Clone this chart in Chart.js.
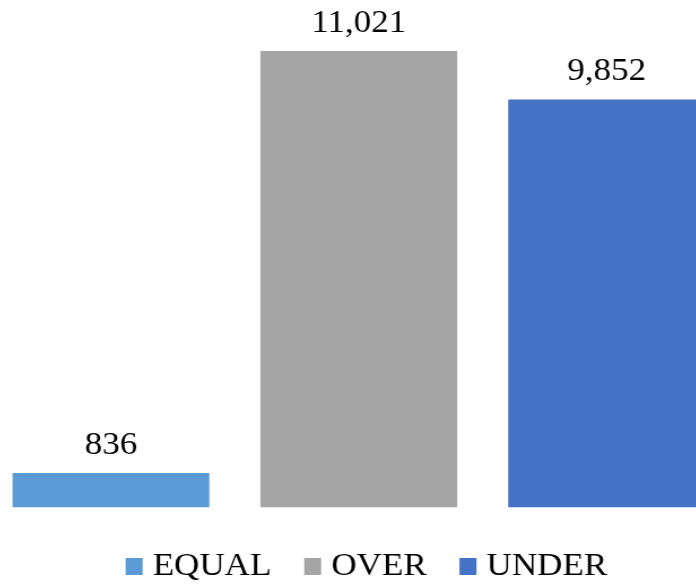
<!DOCTYPE html>
<html>
<head>
<meta charset="utf-8">
<script src="https://cdn.jsdelivr.net/npm/chart.js@4"></script>
<style>
  html, body { margin: 0; padding: 0; background: #fff; overflow: hidden; }
  body { width: 696px; height: 586px; position: relative; }
  /* chart is drawn a bit narrower and stretched sideways */
  #wrap {
    position: absolute; left: -13.5px; top: 0;
    width: 658px; height: 592px;
    transform: scaleX(1.13); transform-origin: 0 0;
  }
</style>
</head>
<body>
<div id="wrap"><canvas id="chart"></canvas></div>
<script>
const categories = ['EQUAL', 'OVER', 'UNDER'];
const counts = [836, 11021, 9852];
const barColors = ['#5B9BD5', '#A5A5A5', '#4472C4'];

const FONT = "'Liberation Serif', 'Times New Roman', serif";
const FONT_SIZE = 31;

// one dataset per category so the legend lists each one
const datasets = categories.map((name, i) => ({
  label: name,
  data: categories.map((_, j) => (i === j ? counts[i] : null)),
  backgroundColor: barColors[i],
  borderWidth: 0,
  grouped: false,
  skipNull: true,
  barPercentage: 0.794,
  categoryPercentage: 1,
}));

// legend swatch: small square sitting close to its label
function makeSwatch(color) {
  const c = document.createElement('canvas');
  c.width = 41;
  c.height = 17;
  const g = c.getContext('2d');
  g.fillStyle = color;
  g.fillRect(23, 0, 15, 17);
  return c;
}
const swatches = barColors.map(makeSwatch);

// value labels above each bar
const valueLabels = {
  id: 'valueLabels',
  afterDatasetsDraw(chart) {
    const ctx = chart.ctx;
    ctx.save();
    ctx.font = FONT_SIZE + 'px ' + FONT;
    ctx.fillStyle = '#000';
    ctx.textAlign = 'center';
    ctx.textBaseline = 'alphabetic';
    chart.data.datasets.forEach((ds, i) => {
      const meta = chart.getDatasetMeta(i);
      meta.data.forEach((bar, j) => {
        const v = ds.data[j];
        if (v == null) return;
        ctx.fillText(v.toLocaleString('en-US'), bar.x, bar.y - 19);
      });
    });
    ctx.restore();
  }
};

new Chart(document.getElementById('chart'), {
  type: 'bar',
  data: { labels: categories, datasets },
  plugins: [valueLabels],
  options: {
    responsive: true,
    maintainAspectRatio: false,
    animation: false,
    layout: { padding: { top: 10.5, left: 0, right: 0, bottom: 0 } },
    scales: {
      x: {
        display: true,
        grid: { display: false },
        border: { display: false },
        ticks: { display: false },
        afterFit: (scale) => { scale.height = 28; },
      },
      y: { display: false, min: 0, max: 12000 },
    },
    plugins: {
      tooltip: { enabled: false },
      legend: {
        position: 'bottom',
        labels: {
          usePointStyle: true,
          boxWidth: 22,
          boxHeight: 17,
          padding: 15.5,
          color: '#000',
          font: { family: FONT, size: FONT_SIZE },
          generateLabels: (chart) => chart.data.datasets.map((ds, i) => ({
            text: ds.label,
            pointStyle: swatches[i],
            fillStyle: ds.backgroundColor,
            strokeStyle: ds.backgroundColor,
            lineWidth: 0,
            fontColor: '#000',
            hidden: false,
            datasetIndex: i,
          })),
        },
      },
    },
  },
});
</script>
</body>
</html>
